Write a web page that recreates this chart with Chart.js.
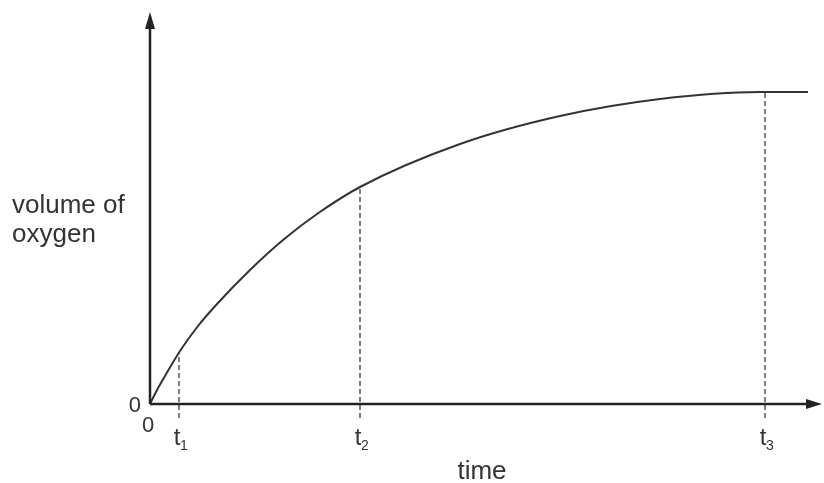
<!DOCTYPE html>
<html>
<head>
<meta charset="utf-8">
<script src="https://cdn.jsdelivr.net/npm/chart.js@4/dist/chart.umd.min.js"></script>
<style>
  html, body { margin: 0; padding: 0; background: #fff; }
  #wrap { width: 824px; height: 483px; }
</style>
</head>
<body>
<div id="wrap"><canvas id="myChart" width="824" height="483"></canvas></div>
<script>
// curve (time, volume of oxygen) in arbitrary units
var timeVals   = [0, 0.7, 1.5, 3, 4.8, 6.7, 10, 13.3, 16.7, 21, 31, 41, 51, 61, 65.8];
var volumeVals = [0, 1.4, 2.8, 5.3, 7.8, 10.0, 13.4, 16.4, 19.0, 21.7, 26.0, 28.8, 30.5, 31.2, 31.2];

// marked times and the curve height at each
var markTimes   = [2.9, 21, 61.5];
var markVolumes = [5.2, 21.7, 31.2];
var markMain    = ['t', 't', 't'];
var markSub     = ['1', '2', '3'];

var xMax = 67.2;
var yMax = 39.2;
var dashBottom = -1.4;

var textColor = '#333';
var fontFam = '"Liberation Sans", Arial, sans-serif';

var curve = [];
for (i = 0; i < timeVals.length; i++) {
    curve.push({ x: timeVals[i], y: volumeVals[i] });
}

var datasets = [{
    data: curve,
    borderColor: '#333',
    borderWidth: 2,
    pointRadius: 0,
    cubicInterpolationMode: 'monotone',
    fill: false
}];

for (i = 0; i < markTimes.length; i++) {
    datasets.push({
        data: [{ x: markTimes[i], y: dashBottom }, { x: markTimes[i], y: markVolumes[i] }],
        borderColor: '#555',
        borderWidth: 1.5,
        borderDash: [5, 3],
        pointRadius: 0,
        clip: false,
        fill: false
    });
}

// axes with arrow heads plus the labels
var axesPlugin = {
    id: 'axesPlugin',
    afterDatasetsDraw: function (chart) {
        var ctx = chart.ctx;
        var xs = chart.scales.x, ys = chart.scales.y;
        var x0 = xs.getPixelForValue(0), y0 = ys.getPixelForValue(0);
        var xEnd = xs.getPixelForValue(xMax), yEnd = ys.getPixelForValue(yMax);

        ctx.save();
        ctx.strokeStyle = '#222';
        ctx.fillStyle = '#222';
        ctx.lineWidth = 2.5;
        ctx.beginPath();
        ctx.moveTo(x0, y0);
        ctx.lineTo(x0, yEnd + 12);
        ctx.moveTo(x0, y0);
        ctx.lineTo(xEnd - 12, y0);
        ctx.stroke();

        // arrow heads
        ctx.beginPath();
        ctx.moveTo(x0, yEnd);
        ctx.lineTo(x0 - 5, yEnd + 17);
        ctx.lineTo(x0 + 5, yEnd + 17);
        ctx.closePath();
        ctx.fill();
        ctx.beginPath();
        ctx.moveTo(xEnd, y0);
        ctx.lineTo(xEnd - 16, y0 - 5);
        ctx.lineTo(xEnd - 16, y0 + 5);
        ctx.closePath();
        ctx.fill();

        ctx.fillStyle = textColor;
        ctx.font = '22px ' + fontFam;
        ctx.textBaseline = 'alphabetic';
        // zeros
        ctx.textAlign = 'right';
        ctx.fillText('0', x0 - 9, y0 + 8);
        ctx.textAlign = 'center';
        ctx.fillText('0', x0 - 2, y0 + 28);

        // t1, t2, t3
        for (var k = 0; k < markTimes.length; k++) {
            var px = xs.getPixelForValue(markTimes[k]);
            ctx.font = '24px ' + fontFam;
            ctx.textAlign = 'center';
            ctx.fillText(markMain[k], px - 2, y0 + 41);
            ctx.font = '14px ' + fontFam;
            ctx.textAlign = 'left';
            ctx.fillText(markSub[k], px + 1, y0 + 46);
        }

        // axis titles
        ctx.font = '26px ' + fontFam;
        ctx.textAlign = 'center';
        ctx.fillText('time', 482, 479);
        ctx.textAlign = 'left';
        ctx.fillText('volume of', 12, 213);
        ctx.fillText('oxygen', 12, 242);
        ctx.restore();
    }
};

var ctx = document.getElementById('myChart').getContext('2d');
var chart = new Chart(ctx, {
    type: 'scatter',
    data: { datasets: datasets },
    options: {
        responsive: false,
        animation: false,
        showLine: true,
        layout: { padding: { left: 150, right: 2, top: 12, bottom: 79 } },
        plugins: { legend: { display: false }, tooltip: { enabled: false } },
        scales: {
            x: { type: 'linear', min: 0, max: xMax, display: false },
            y: { type: 'linear', min: 0, max: yMax, display: false }
        }
    },
    plugins: [axesPlugin]
});
</script>
</body>
</html>
